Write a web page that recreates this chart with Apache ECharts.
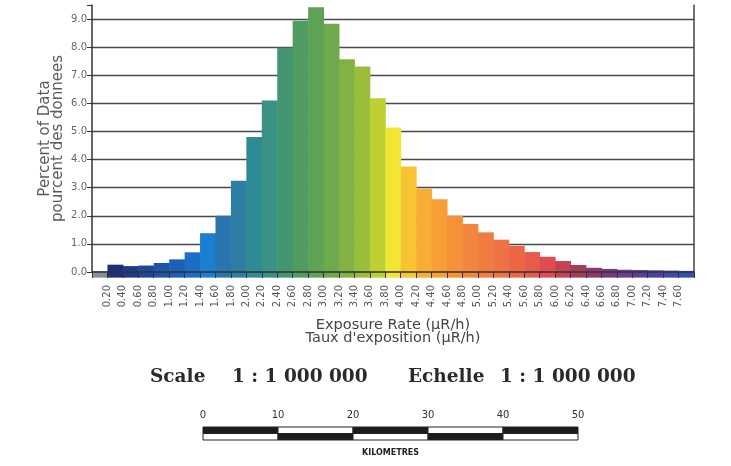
<!DOCTYPE html>
<html><head><meta charset="utf-8">
<script src="https://cdn.jsdelivr.net/npm/echarts@6/dist/echarts.min.js"></script>
<style>html,body{margin:0;padding:0;background:#fff}#c{width:731px;height:466px}</style>
</head><body><div id="c"></div>
<script>
// ---- data ----
const binWidth = 0.2;
const binStart = [0.0,0.2,0.4,0.6,0.8,1.0,1.2,1.4,1.6,1.8,2.0,2.2,2.4,2.6,2.8,3.0,3.2,3.4,3.6,3.8,
                  4.0,4.2,4.4,4.6,4.8,5.0,5.2,5.4,5.6,5.8,6.0,6.2,6.4,6.6,6.8,7.0,7.2,7.4,7.6];
const percent  = [0.03,0.26,0.21,0.23,0.32,0.45,0.70,1.38,2.00,3.25,4.80,6.10,7.98,8.94,9.42,8.83,7.57,7.31,6.18,5.14,
                  3.75,2.96,2.59,2.00,1.71,1.41,1.15,0.93,0.71,0.54,0.39,0.25,0.15,0.11,0.08,0.07,0.06,0.05,0.04];
const binColors = ['#8a8c9a','#1f2f7c','#203a8a','#1f479c','#1e54aa','#1c60b8','#1b6ec6','#1c7ed0','#2a74b0','#2c7fa2',
                   '#2e8a94','#3a9284','#449672','#509c62','#5ea255','#6caa4c','#82b243','#9abe3a','#bcd034','#f2e634',
                   '#f8c434','#f8ae34','#f79e34','#f59238','#f2863e','#f07c42','#ee7244','#ec6646','#ea5a4a','#e04c52',
                   '#c44252','#a63c5a','#8c3a6c','#7a3a82','#6a3c92','#5a3e9a','#4a42a2','#3c4aaa','#2e52b0'];
const tickLabels = ['0.20','0.40','0.60','0.80','1.00','1.20','1.40','1.60','1.80','2.00','2.20','2.40','2.60','2.80',
                    '3.00','3.20','3.40','3.60','3.80','4.00','4.20','4.40','4.60','4.80','5.00','5.20','5.40','5.60',
                    '5.80','6.00','6.20','6.40','6.60','6.80','7.00','7.20','7.40','7.60'];
const yTickLabels = ['0.0','1.0','2.0','3.0','4.0','5.0','6.0','7.0','8.0','9.0'];
const scaleTicks = [0,10,20,30,40,50];
const scaleTitle = ['Scale','1 : 1 000 000','Echelle','1 : 1 000 000'];

// ---- build ----
const histData = binStart.map((s,i)=>[s, percent[i]]);
const segData = [];
for (let i=0;i<scaleTicks.length-1;i++){
  segData.push([scaleTicks[i], scaleTicks[i+1], 1, i%2]);
  segData.push([scaleTicks[i], scaleTicks[i+1], 0, (i+1)%2]);
}

function renderBar(params, api){
  const x0 = api.value(0), x1 = x0 + binWidth, h = api.value(1);
  const p0 = api.coord([x0, 0]), p1 = api.coord([x1, h]);
  const q1 = api.coord([x1, -0.2]);
  const c = binColors[params.dataIndex];
  return {type:'group', children:[
    {type:'rect', shape:{x:p0[0], y:p1[1], width:p1[0]-p0[0]+0.5, height:p0[1]-p1[1]}, style:{fill:c}},
    {type:'rect', shape:{x:p0[0], y:p0[1], width:q1[0]-p0[0]+0.5, height:q1[1]-p0[1]}, style:{fill:c}}
  ]};
}
function renderSeg(params, api){
  const a = api.coord([api.value(0), api.value(2)]);
  const b = api.coord([api.value(1), api.value(2)+1]);
  return {type:'rect', shape:{x:a[0], y:b[1], width:b[0]-a[0], height:a[1]-b[1]},
          style:{fill: api.value(3)===0 ? '#1c1c1c' : '#ffffff', stroke:'#222', lineWidth:1}};
}

const sansF = 'DejaVu Sans';
const chart = echarts.init(document.getElementById('c'), null, {renderer:'canvas'});
const titleXs = [150, 232, 408, 500];
chart.setOption({
  animation:false,
  backgroundColor:'#ffffff',
  grid:[
    {left:92, right:37, top:5, bottom:194},
    {left:203, right:153, top:427, height:13}
  ],
  xAxis:[
    {type:'value', gridIndex:0, min:0, max:7.8, interval:0.2, z:5,
     axisLine:{show:true, lineStyle:{color:'#333', width:1.5}},
     axisTick:{show:true, length:6, lineStyle:{color:'#333', width:1}},
     axisLabel:{rotate:90, margin:13, fontSize:10, color:'#555', fontFamily:sansF,
       formatter:v=>{const s=v.toFixed(2); return tickLabels.includes(s)?s:'';}},
     splitLine:{show:false},
     name:"Exposure Rate (μR/h)\nTaux d'exposition (μR/h)", nameLocation:'middle', nameGap:47,
     nameTextStyle:{fontSize:14.5, lineHeight:13, color:'#444', fontFamily:sansF}},
    {type:'value', gridIndex:1, min:0, max:50, interval:10, position:'top',
     axisLine:{show:false}, axisTick:{show:false}, splitLine:{show:false},
     axisLabel:{margin:7, fontSize:10, color:'#333', fontFamily:sansF}},
    {type:'value', gridIndex:1, min:0, max:50, position:'bottom',
     axisLine:{show:false}, axisTick:{show:false}, splitLine:{show:false}, axisLabel:{show:false},
     name:'KILOMETRES', nameLocation:'middle', nameGap:9,
     nameTextStyle:{fontSize:8, color:'#222', fontFamily:sansF, fontWeight:'bold'}}
  ],
  yAxis:[
    {type:'value', gridIndex:0, min:0, max:9.5, interval:1,
     axisLine:{show:true, lineStyle:{color:'#333', width:1.5}},
     axisTick:{show:true, length:5, lineStyle:{color:'#333'}},
     axisLabel:{margin:5, fontSize:10, color:'#666', fontFamily:sansF,
       formatter:v=>{const s=v.toFixed(1); return yTickLabels.includes(s)?s:'';}},
     splitLine:{show:true, showMaxLine:false, lineStyle:{color:'#4a4a4a', width:1.3}},
     name:'Percent of Data\npourcent des donnees', nameLocation:'middle', nameGap:27, nameMoveOverlap:false,
     nameTextStyle:{fontSize:15, lineHeight:13, color:'#5a5a5a', fontFamily:sansF}},
    {type:'value', gridIndex:0, min:0, max:9.5, position:'right', z:5,
     axisLine:{show:true, lineStyle:{color:'#444', width:1.5}},
     axisTick:{show:false}, axisLabel:{show:false}, splitLine:{show:false}},
    {type:'value', gridIndex:1, min:0, max:2, show:false}
  ],
  series:[
    {type:'custom', xAxisIndex:0, yAxisIndex:0, renderItem:renderBar, data:histData, clip:false},
    {type:'custom', xAxisIndex:1, yAxisIndex:2, renderItem:renderSeg, data:segData}
  ],
  graphic: scaleTitle.map((t,i)=>({type:'text', left:titleXs[i], top:368,
     style:{text:t, font:'bold 18.5px "DejaVu Serif"', fill:'#2a2a2a'}}))
});
</script></body></html>
